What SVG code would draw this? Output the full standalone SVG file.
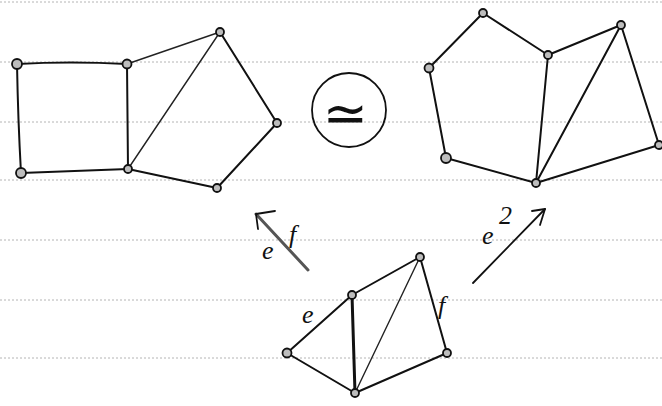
<svg xmlns="http://www.w3.org/2000/svg" width="662" height="406" viewBox="0 0 662 406">
<style>
.paper{stroke:#b4b4b4;stroke-width:1;stroke-dasharray:2 2;fill:none}
.edge{stroke:#111;stroke-width:2;fill:none;stroke-linecap:round}
.thin{stroke:#222;stroke-width:1.4;fill:none;stroke-linecap:round}
.thick{stroke:#111;stroke-width:3;fill:none;stroke-linecap:round}
.node{fill:#bdbdbd;stroke:#111;stroke-width:1.8}
.lbl{font-family:"Liberation Serif",serif;font-style:italic;font-size:26px;fill:#111}
.arr{stroke:#111;stroke-width:1.8;fill:none;stroke-linecap:round;stroke-linejoin:round}
.arrg{stroke:#555;stroke-width:3;fill:none;stroke-linecap:round}
</style>
<rect width="662" height="406" fill="#fff"/>
<g id="paper-lines">
<line class="paper" x1="0" y1="2" x2="662" y2="2"/>
<line class="paper" x1="0" y1="62" x2="662" y2="62"/>
<line class="paper" x1="0" y1="122" x2="662" y2="122"/>
<line class="paper" x1="0" y1="180" x2="662" y2="180"/>
<line class="paper" x1="0" y1="240" x2="662" y2="240"/>
<line class="paper" x1="0" y1="300" x2="662" y2="300"/>
<line class="paper" x1="0" y1="358" x2="662" y2="358"/>
</g>
<g id="connectors">
<!-- left graph -->
<path class="edge" d="M17 64 Q70 61 127 64"/>
<path class="thin" d="M127 64 L220 32"/>
<path class="edge" d="M220 32 L277 123"/>
<path class="edge" d="M277 123 L217 188"/>
<path class="edge" d="M217 188 L128 169"/>
<path class="edge" d="M128 169 Q75 171 21 173"/>
<path class="edge" d="M21 173 Q18 120 17 64"/>
<path class="edge" d="M127 64 L128 169"/>
<path class="thin" d="M128 169 L220 32"/>
<!-- right graph -->
<path class="edge" d="M429 68 L483 13"/>
<path class="edge" d="M483 13 L548 55"/>
<path class="edge" d="M548 55 L621 25"/>
<path class="edge" d="M621 25 L659 145"/>
<path class="edge" d="M659 145 L536 183"/>
<path class="edge" d="M536 183 L446 158"/>
<path class="edge" d="M446 158 L429 68"/>
<path class="edge" d="M548 55 L536 183"/>
<path class="edge" d="M621 25 L536 183"/>
<!-- bottom graph -->
<path class="edge" d="M287 353 L352 295"/>
<path class="edge" d="M352 295 L420 257"/>
<path class="edge" d="M420 257 L447 353"/>
<path class="edge" d="M447 353 L355 393"/>
<path class="edge" d="M355 393 L287 353"/>
<path class="thick" d="M352 295 L355 393"/>
<path class="thin" d="M420 257 L355 393"/>
<!-- arrows -->
<path class="arrg" d="M308 270 L256 214"/>
<path class="arr" d="M256 214 L275 211 M256 214 L258 229"/>
<path class="arr" d="M473 283 L545 209"/>
<path class="arr" d="M545 209 L532 211 M545 209 L540 225"/>
</g>
<g id="node-a"><circle class="node" cx="17" cy="64" r="5"/></g>
<g id="node-b"><circle class="node" cx="127" cy="64" r="4.5"/></g>
<g id="node-c"><circle class="node" cx="220" cy="32" r="4"/></g>
<g id="node-d"><circle class="node" cx="277" cy="123" r="4"/></g>
<g id="node-e"><circle class="node" cx="217" cy="188" r="4"/></g>
<g id="node-f"><circle class="node" cx="128" cy="169" r="4"/></g>
<g id="node-g"><circle class="node" cx="21" cy="173" r="5"/></g>
<g id="node-p1"><circle class="node" cx="483" cy="13" r="4"/></g>
<g id="node-p2"><circle class="node" cx="548" cy="55" r="4"/></g>
<g id="node-p3"><circle class="node" cx="621" cy="25" r="4"/></g>
<g id="node-p4"><circle class="node" cx="659" cy="145" r="4"/></g>
<g id="node-p5"><circle class="node" cx="536" cy="183" r="4"/></g>
<g id="node-p6"><circle class="node" cx="446" cy="158" r="5"/></g>
<g id="node-p7"><circle class="node" cx="429" cy="68" r="4.5"/></g>
<g id="node-q1"><circle class="node" cx="352" cy="295" r="4"/></g>
<g id="node-q2"><circle class="node" cx="420" cy="257" r="4"/></g>
<g id="node-q3"><circle class="node" cx="447" cy="353" r="4"/></g>
<g id="node-q4"><circle class="node" cx="355" cy="393" r="4"/></g>
<g id="node-q5"><circle class="node" cx="287" cy="353" r="4.5"/></g>
<g id="iso">
<ellipse cx="349" cy="110" rx="37" ry="37" fill="none" stroke="#111" stroke-width="1.8"/>
<text x="345" y="132" text-anchor="middle" font-family="DejaVu Sans,sans-serif" font-size="54" fill="#111">≃</text>
</g>
<g id="labels">
<text class="lbl" x="262" y="259">e</text>
<text class="lbl" x="289" y="243">f</text>
<text class="lbl" x="482" y="244">e</text>
<text class="lbl" x="499" y="224" font-size="17">2</text>
<text class="lbl" x="302" y="323">e</text>
<text class="lbl" x="438" y="314">f</text>
</g>
</svg>
